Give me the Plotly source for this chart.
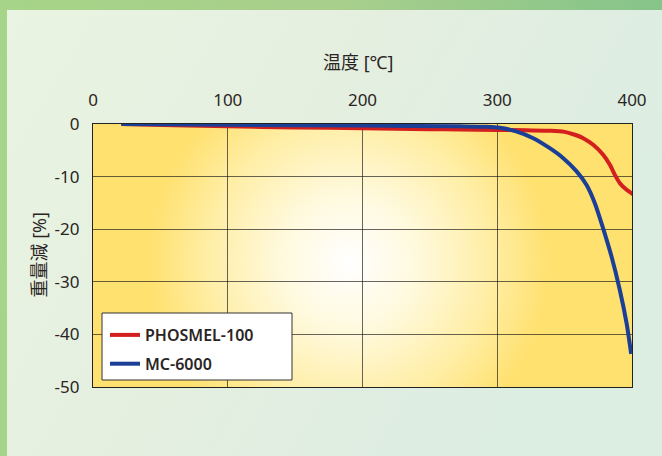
import base64
import plotly.graph_objects as go

# ---- data ----
temp_phosmel = [21, 60, 100, 150, 200, 250, 272, 299.5, 321.7, 340, 350, 357, 363.8, 371.2, 378.6, 383.6, 387.3, 391, 396, 401]
loss_phosmel = [0, -0.25, -0.45, -0.65, -0.82, -0.98, -1.06, -1.12, -1.2, -1.28, -1.5, -2.0, -2.69, -3.96, -5.86, -7.77, -9.67, -11.25, -12.5, -13.4]

temp_mc = [21, 100, 200, 272, 292, 302, 314, 326.7, 339, 349, 358.9, 366.3, 372.5, 377.4, 384.8, 391, 396, 399.4]
loss_mc = [0, -0.15, -0.3, -0.45, -0.52, -0.7, -1.4, -2.7, -4.6, -6.5, -9.0, -11.6, -15.1, -18.9, -25.2, -31.6, -37.9, -43.7]

x_ticks = [0, 100, 200, 300, 400]
x_ticktext = ["0", "100", "200", "300", "400"]
y_ticks = [0, -10, -20, -30, -40, -50]
y_ticktext = ["0", "-10", "-20", "-30", "-40", "-50"]

series_names = ["PHOSMEL-100", "MC-6000"]
x_title = "温度 [℃]"
y_title = "重量減 [%]"

# ---- styling ----
W, H = 662, 456
L, R, T, B = 93, 30, 124, 69
PW, PH = W - L - R, H - T - B
FONT = "Noto Sans, Noto Sans CJK JP, sans-serif"
TXT = "#2a2523"


def px_x(p):
    return (p - L) / PW


def px_y(p):
    return (H - B - p) / PH


def svg_uri(svg):
    return "data:image/svg+xml;base64," + base64.b64encode(svg.encode("utf-8")).decode()


paper_svg = f"""<svg xmlns='http://www.w3.org/2000/svg' width='{W}' height='{H}' viewBox='0 0 {W} {H}' preserveAspectRatio='none'>
<defs>
<linearGradient id='g' x1='0' y1='0' x2='1' y2='0'>
<stop offset='0' stop-color='#a6d488'/><stop offset='0.5' stop-color='#a9cf8c'/><stop offset='1' stop-color='#86c48a'/>
</linearGradient>
<linearGradient id='p' x1='0' y1='0' x2='1' y2='0.4'>
<stop offset='0' stop-color='#eaf4e2'/><stop offset='0.5' stop-color='#e4efe0'/><stop offset='1' stop-color='#dcede2'/>
</linearGradient>
</defs>
<rect x='0' y='0' width='{W}' height='{H}' fill='url(#g)'/>
<rect x='7' y='10' width='{W - 7}' height='{H - 10}' fill='url(#p)'/>
</svg>"""

plot_svg = f"""<svg xmlns='http://www.w3.org/2000/svg' width='{PW}' height='{PH}' viewBox='0 0 {PW} {PH}' preserveAspectRatio='none'>
<defs>
<radialGradient id='r' gradientUnits='userSpaceOnUse' cx='256' cy='138' r='200'>
<stop offset='0' stop-color='#ffffff'/><stop offset='0.35' stop-color='#fff9dc'/>
<stop offset='0.7' stop-color='#ffeea6'/><stop offset='1' stop-color='#ffe170'/>
</radialGradient>
</defs>
<rect x='0' y='0' width='{PW}' height='{PH}' fill='#ffe170'/>
<rect x='0' y='0' width='{PW}' height='{PH}' fill='url(#r)'/>
</svg>"""

fig = go.Figure()
fig.add_trace(go.Scatter(x=temp_phosmel, y=loss_phosmel, mode="lines", name=series_names[0],
                         legendgroup="a",
                         line=dict(color="#d3201f", width=4, shape="spline", smoothing=0.6)))
fig.add_trace(go.Scatter(x=temp_mc, y=loss_mc, mode="lines", name=series_names[1],
                         legendgroup="b",
                         line=dict(color="#1b3f97", width=4, shape="spline", smoothing=0.6)))

grid = "rgba(20,20,20,0.65)"
fig.update_layout(
    width=W, height=H,
    margin=dict(l=L, r=R, t=T, b=B, pad=0),
    paper_bgcolor="#e4efe0",
    plot_bgcolor="rgba(0,0,0,0)",
    font=dict(family=FONT, size=16, color=TXT),
    showlegend=True,
    legend=dict(x=px_x(105), y=px_y(318), xanchor="left", yanchor="top",
                bgcolor="rgba(0,0,0,0)", borderwidth=0,
                font=dict(family=FONT, size=16, color=TXT, weight=600),
                tracegroupgap=5, itemwidth=30),
    xaxis=dict(range=[0, 400], side="top", tickvals=x_ticks, ticktext=x_ticktext,
               showgrid=True, gridcolor=grid, gridwidth=1.3, zeroline=False,
               showline=True, linecolor="#222", linewidth=1.3, mirror=True,
               ticks="", ticklabelstandoff=10, tickfont=dict(size=17, color=TXT)),
    yaxis=dict(range=[-50, 0], tickvals=y_ticks, ticktext=y_ticktext,
               showgrid=True, gridcolor=grid, gridwidth=1.3, zeroline=False,
               showline=True, linecolor="#222", linewidth=1.3, mirror=True,
               ticks="", ticklabelstandoff=9, tickfont=dict(size=17, color=TXT)),
    shapes=[
        dict(type="rect", xref="paper", yref="paper", x0=px_x(102), x1=px_x(292),
             y0=px_y(380), y1=px_y(313), fillcolor="white",
             line=dict(color="#333333", width=1), layer="above"),
    ],
    images=[
        dict(source=svg_uri(paper_svg), xref="paper", yref="paper", x=-L / PW, y=1 + T / PH,
             sizex=W / PW, sizey=H / PH, sizing="stretch", xanchor="left", yanchor="top", layer="below"),
        dict(source=svg_uri(plot_svg), xref="paper", yref="paper", x=0, y=1,
             sizex=1, sizey=1, sizing="stretch", xanchor="left", yanchor="top", layer="below"),
    ],
    annotations=[
        dict(text=x_title, xref="paper", yref="paper", x=px_x(358), y=1, yshift=62,
             xanchor="center", yanchor="middle", showarrow=False, font=dict(size=18, color=TXT)),
        dict(text=y_title, xref="paper", yref="paper", x=0, xshift=38 - L, y=0.5,
             xanchor="center", yanchor="middle", textangle=-90, showarrow=False,
             font=dict(size=18, color=TXT)),
    ],
)

fig.write_html("out.html", config={"displayModeBar": False},
               post_script="document.body.style.margin='0';document.body.style.overflow='hidden';")
